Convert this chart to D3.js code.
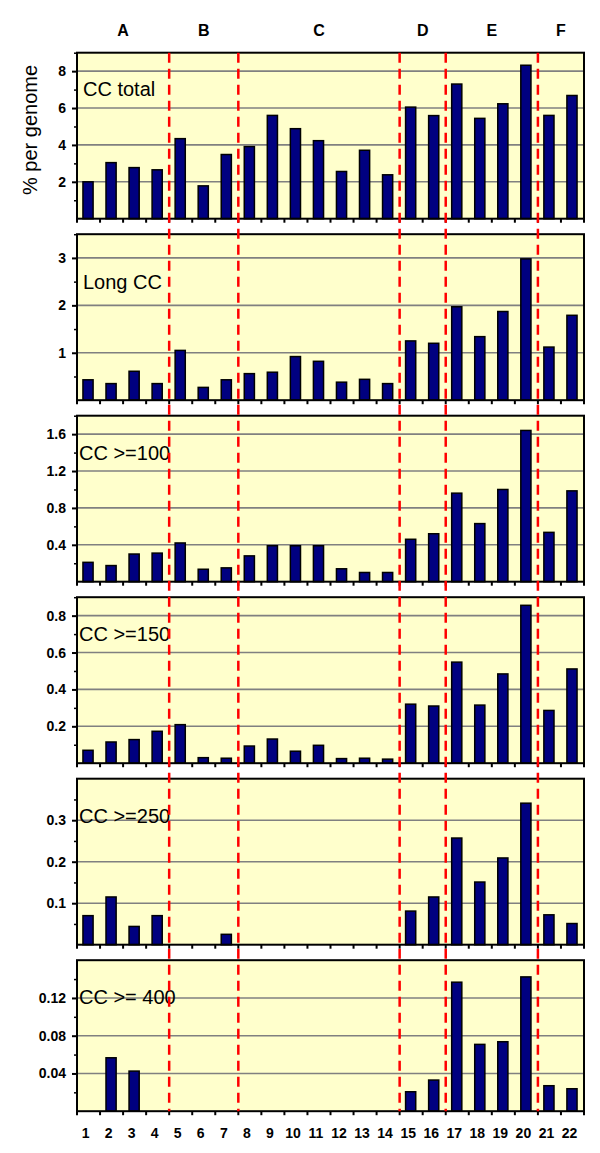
<!DOCTYPE html>
<html>
<head>
<meta charset="utf-8">
<script src="https://cdn.jsdelivr.net/npm/d3@7"></script>
<style>
  body { margin: 0; background: #fff; }
  text { font-family: Arial, "Liberation Sans", sans-serif; }
</style>
</head>
<body>
<svg width="600" height="1153"></svg>
<script>
// chromosomes on the x axis
let chromosomes = [1, 2, 3, 4, 5, 6, 7, 8, 9, 10, 11, 12, 13, 14, 15, 16, 17, 18, 19, 20, 21, 22]
let groupNames = ['A', 'B', 'C', 'D', 'E', 'F']
let groupFirst = [1, 5, 8, 15, 17, 21]

let panelLabels = ['CC total', 'Long CC', 'CC >=100', 'CC >=150', 'CC >=250', 'CC >= 400']

let ccTotal = [2.0, 3.04, 2.77, 2.65, 4.34, 1.78, 3.48, 3.91, 5.6, 4.88, 4.23, 2.56, 3.71, 2.38, 6.05, 5.59, 7.3, 5.44, 6.23, 8.32, 5.6, 6.68]
let ccLong = [0.43, 0.35, 0.61, 0.35, 1.05, 0.27, 0.43, 0.56, 0.59, 0.92, 0.82, 0.38, 0.44, 0.35, 1.25, 1.2, 1.97, 1.34, 1.87, 2.98, 1.12, 1.79]
let cc100 = [0.21, 0.175, 0.3, 0.31, 0.42, 0.135, 0.15, 0.28, 0.39, 0.39, 0.39, 0.14, 0.1, 0.1, 0.46, 0.52, 0.96, 0.63, 1.0, 1.64, 0.535, 0.985]
let cc150 = [0.07, 0.115, 0.128, 0.173, 0.209, 0.03, 0.027, 0.093, 0.131, 0.065, 0.097, 0.025, 0.027, 0.022, 0.32, 0.31, 0.548, 0.315, 0.484, 0.856, 0.286, 0.511]
let cc250 = [0.07, 0.115, 0.044, 0.07, 0, 0, 0.025, 0, 0, 0, 0, 0, 0, 0, 0.081, 0.115, 0.257, 0.151, 0.209, 0.341, 0.072, 0.051]
let cc400 = [0, 0.0566, 0.0425, 0, 0, 0, 0, 0, 0, 0, 0, 0, 0, 0, 0.0206, 0.033, 0.1367, 0.0708, 0.0736, 0.1423, 0.027, 0.0238]

let yMax = [9, 3.5, 1.8, 0.9, 0.4, 0.16]
let majorTicks = [[2, 4, 6, 8], [1, 2, 3], [0.4, 0.8, 1.2, 1.6], [0.2, 0.4, 0.6, 0.8], [0.1, 0.2, 0.3], [0.04, 0.08, 0.12]]
let minorTicks = [[1, 3, 5, 7, 9], [0.5, 1.5, 2.5, 3.5], [0.2, 0.6, 1.0, 1.4, 1.8], [0.1, 0.3, 0.5, 0.7, 0.9], [0.05, 0.15, 0.25, 0.35], [0.02, 0.06, 0.1, 0.14]]

let series = [ccTotal, ccLong, cc100, cc150, cc250, cc400]

let left = 77, right = 584
let firstTop = 52.7, panelStep = 181.5, panelHeight = 166, lastHeight = 151

let svg = d3.select('svg')

let x = d3.scaleBand().domain(chromosomes).range([left, right]).padding(0)
let barWidth = x.bandwidth() * 0.44

let lastBottom = 0

series.forEach(function (values, i) {
  let top = firstTop + i * panelStep
  let h = i === series.length - 1 ? lastHeight : panelHeight
  let bottom = top + h
  lastBottom = bottom

  let y = d3.scaleLinear().domain([0, yMax[i]]).range([bottom, top])
  let g = svg.append('g').attr('class', 'panel')

  g.append('rect')
    .attr('x', left).attr('y', top)
    .attr('width', right - left).attr('height', h)
    .attr('fill', '#FFFFCC')

  // gridlines
  g.selectAll('line.grid').data(majorTicks[i]).enter().append('line')
    .attr('class', 'grid')
    .attr('x1', left).attr('x2', right)
    .attr('y1', function (d) { return y(d) })
    .attr('y2', function (d) { return y(d) })
    .attr('stroke', '#808080')
    .attr('stroke-width', 1.6)

  // bars
  g.selectAll('rect.bar').data(values).enter().append('rect')
    .attr('class', 'bar')
    .attr('x', function (d, j) { return x(chromosomes[j]) + (x.bandwidth() - barWidth) / 2 - 0.5 })
    .attr('y', function (d) { return y(d) })
    .attr('width', barWidth)
    .attr('height', function (d) { return bottom - y(d) })
    .attr('fill', '#000080')
    .attr('stroke', 'black')
    .attr('stroke-width', 1.5)
    .style('display', function (d) { return d > 0 ? null : 'none' })

  // frame
  g.append('rect')
    .attr('x', left).attr('y', top)
    .attr('width', right - left).attr('height', h)
    .attr('fill', 'none')
    .attr('stroke', 'black')
    .attr('stroke-width', 2)

  // y axis, major ticks with labels
  let yAxis = g.append('g')
    .attr('transform', 'translate(' + left + ',0)')
    .call(d3.axisLeft(y).tickValues(majorTicks[i]).tickSize(5).tickPadding(6).tickSizeOuter(0).tickFormat(String))
  yAxis.select('.domain').remove()
  yAxis.selectAll('line').attr('stroke', 'black').attr('stroke-width', 2)
  yAxis.selectAll('text')
    .attr('font-size', 14).attr('font-weight', 'bold').attr('fill', 'black')
    .style('font-family', 'Arial, "Liberation Sans", sans-serif')

  // minor ticks
  let yMinor = g.append('g')
    .attr('transform', 'translate(' + left + ',0)')
    .call(d3.axisLeft(y).tickValues(minorTicks[i]).tickSize(3).tickSizeOuter(0).tickFormat(''))
  yMinor.select('.domain').remove()
  yMinor.selectAll('line').attr('stroke', 'black').attr('stroke-width', 1.5)

  // x ticks at the category boundaries
  let edges = chromosomes.map(function (c) { return x(c) }).concat([right])
  g.selectAll('line.xtick').data(edges).enter().append('line')
    .attr('class', 'xtick')
    .attr('x1', function (d) { return d }).attr('x2', function (d) { return d })
    .attr('y1', bottom).attr('y2', bottom + 4)
    .attr('stroke', 'black')
    .attr('stroke-width', 2)

  g.append('text')
    .attr('x', i < 2 ? left + 6 : left + 2)
    .attr('y', top + (i === 0 ? 43 : i === 1 ? 55 : 44))
    .attr('font-size', 20)
    .attr('fill', 'black')
    .text(panelLabels[i])
})

// chromosome labels under the last panel
let xAxis = svg.append('g')
  .attr('transform', 'translate(-3,' + lastBottom + ')')
  .call(d3.axisBottom(x).tickSize(0).tickPadding(17))
xAxis.select('.domain').remove()
xAxis.selectAll('text')
  .attr('font-size', 14).attr('font-weight', 'bold').attr('fill', 'black')
  .style('font-family', 'Arial, "Liberation Sans", sans-serif')

// group dividers
let dividers = groupFirst.slice(1)
svg.selectAll('line.divider').data(dividers).enter().append('line')
  .attr('class', 'divider')
  .attr('x1', function (d) { return x(d) }).attr('x2', function (d) { return x(d) })
  .attr('y1', firstTop).attr('y2', lastBottom)
  .attr('stroke', '#FF0000')
  .attr('stroke-width', 2.5)
  .attr('stroke-dasharray', '10,6')

// group letters
svg.selectAll('text.group').data(groupNames).enter().append('text')
  .attr('class', 'group')
  .attr('x', function (d, k) {
    let start = x(groupFirst[k])
    let end = k + 1 < groupFirst.length ? x(groupFirst[k + 1]) : right
    return (start + end) / 2
  })
  .attr('y', 36)
  .attr('text-anchor', 'middle')
  .attr('font-size', 16)
  .attr('font-weight', 'bold')
  .text(function (d) { return d })

svg.append('text')
  .attr('transform', 'translate(37,130) rotate(-90)')
  .attr('text-anchor', 'middle')
  .attr('font-size', 20)
  .text('% per genome')
</script>
</body>
</html>
